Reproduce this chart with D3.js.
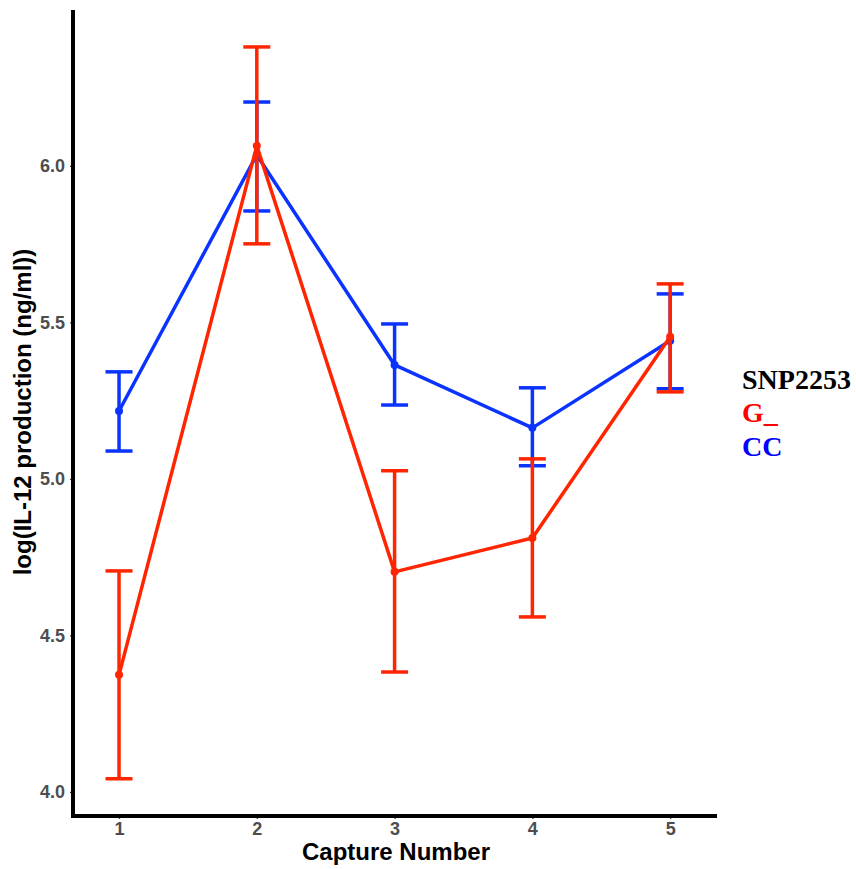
<!DOCTYPE html>
<html>
<head>
<meta charset="utf-8">
<script src="https://cdn.jsdelivr.net/npm/d3@7"></script>
<style>
  body { margin: 0; background: #fff; }
  svg { display: block; }
</style>
</head>
<body>
<svg id="chart" width="856" height="869"></svg>
<script>
// Data
const captures = [1, 2, 3, 4, 5];
const groups = ["G_", "CC"];
const gMean = [4.374, 6.064, 4.703, 4.811, 5.454];
const gLow  = [4.042, 5.751, 4.383, 4.559, 5.278];
const gHigh = [4.706, 6.380, 5.026, 5.064, 5.623];
const ccMean = [5.217, 6.035, 5.364, 5.163, 5.441];
const ccLow  = [5.089, 5.856, 5.236, 5.042, 5.288];
const ccHigh = [5.342, 6.204, 5.495, 5.291, 5.591];
const yTicks = [4.0, 4.5, 5.0, 5.5, 6.0];

const lineColor = { "G_": "#ff2500", "CC": "#0a33ff" };
const legendColor = { "G_": "#ff0000", "CC": "#0000ff" };

const series = [
  { name: "CC", mean: ccMean, low: ccLow, high: ccHigh },
  { name: "G_", mean: gMean, low: gLow, high: gHigh }
];

const svg = d3.select("#chart");

const plot = { left: 73, right: 717, top: 10, bottom: 816 };

const x = d3.scaleLinear().domain([0.666, 5.34]).range([plot.left, plot.right]);
const y = d3.scaleLinear().domain([3.923, 6.498]).range([plot.bottom, plot.top]);

// Axes
const yAxis = svg.append("g")
  .attr("transform", `translate(${plot.left},0)`)
  .call(d3.axisLeft(y).tickValues(yTicks).tickFormat(d3.format(".1f")).tickSize(3).tickPadding(5));
const xAxis = svg.append("g")
  .attr("transform", `translate(0,${plot.bottom})`)
  .call(d3.axisBottom(x).tickValues(captures).tickFormat(d3.format("d")).tickSize(3).tickPadding(3));

[yAxis, xAxis].forEach(a => {
  a.select(".domain").remove();
  a.attr("font-size", null).attr("font-family", null);
  a.selectAll(".tick line").attr("stroke", "#333").attr("stroke-width", 1.2);
  a.selectAll(".tick text")
    .attr("fill", "#4d4d4d")
    .style("font-family", "'Liberation Sans', Arial, sans-serif")
    .style("font-weight", "bold")
    .style("font-size", "18px");
});

// Axis spines
svg.append("line").attr("x1", plot.left).attr("x2", plot.left).attr("y1", plot.top).attr("y2", plot.bottom + 2)
  .attr("stroke", "#000").attr("stroke-width", 4);
svg.append("line").attr("x1", plot.left - 2).attr("x2", plot.right).attr("y1", plot.bottom).attr("y2", plot.bottom)
  .attr("stroke", "#000").attr("stroke-width", 4);

// Titles
svg.append("text")
  .attr("x", 396).attr("y", 860)
  .attr("text-anchor", "middle")
  .style("font-family", "'Liberation Sans', Arial, sans-serif")
  .style("font-weight", "bold").style("font-size", "24px")
  .text("Capture Number");
svg.append("text")
  .attr("transform", `translate(31,412) rotate(-90)`)
  .attr("text-anchor", "middle")
  .style("font-family", "'Liberation Sans', Arial, sans-serif")
  .style("font-weight", "bold").style("font-size", "24px")
  .text("log(IL-12 production (ng/ml))");

// Series
const capHalf = 13.5;
const line = d3.line().x((d, i) => x(captures[i])).y(d => y(d));

series.forEach(s => {
  const g = svg.append("g");
  const col = lineColor[s.name];
  g.append("path")
    .datum(s.mean)
    .attr("d", line)
    .attr("fill", "none")
    .attr("stroke", col)
    .attr("stroke-width", 3.5)
    .attr("stroke-linejoin", "round");

  captures.forEach((c, i) => {
    const cx = x(c);
    g.append("line").attr("x1", cx).attr("x2", cx)
      .attr("y1", y(s.low[i])).attr("y2", y(s.high[i]))
      .attr("stroke", col).attr("stroke-width", 3.5);
    [s.low[i], s.high[i]].forEach(v => {
      g.append("line").attr("x1", cx - capHalf).attr("x2", cx + capHalf)
        .attr("y1", y(v)).attr("y2", y(v))
        .attr("stroke", col).attr("stroke-width", 3.5);
    });
    g.append("circle").attr("cx", cx).attr("cy", y(s.mean[i])).attr("r", 4)
      .attr("fill", col);
  });
});

// Legend
const legend = svg.append("g")
  .style("font-family", "'Liberation Serif', 'Times New Roman', serif")
  .style("font-weight", "bold")
  .style("font-size", "28px");
legend.append("text").attr("x", 742).attr("y", 389).attr("fill", "#000").text("SNP2253");
const legendY = { "G_": 422, "CC": 456 };
groups.forEach(gname => {
  legend.append("text").attr("x", 742).attr("y", legendY[gname])
    .attr("fill", legendColor[gname]).text(gname);
});
</script>
</body>
</html>
